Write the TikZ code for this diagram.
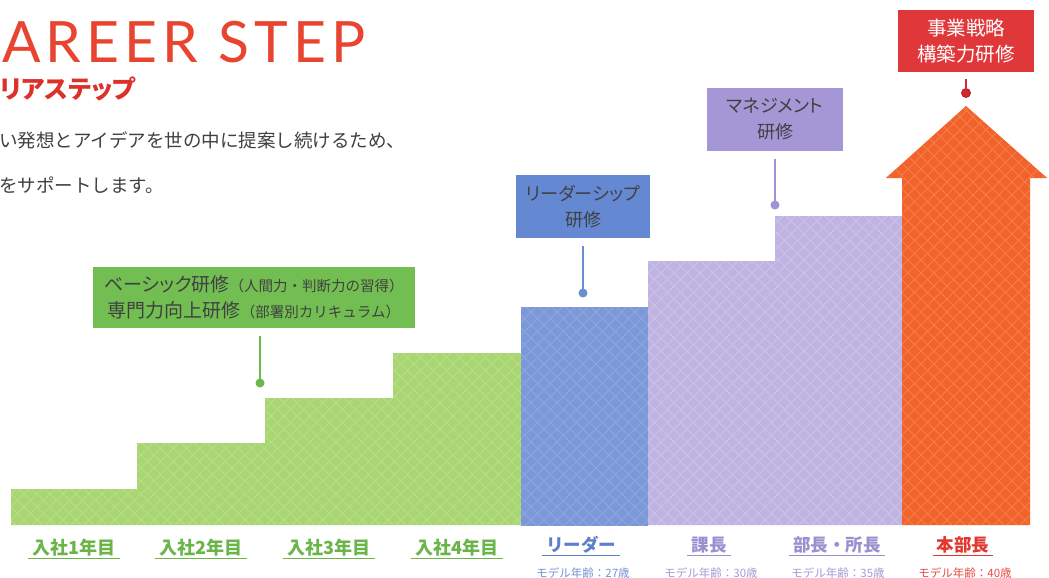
\documentclass[tikz,border=0pt]{standalone}
\usepackage{fontspec}
\newfontfamily\jp{Noto Sans CJK JP}
\newfontfamily\jpp{Noto Sans CJK JP}[RawFeature=+palt]
\newfontfamily\ttl{Lato}[LetterSpace=9]
\definecolor{titlered}{HTML}{E8442F}
\definecolor{subred}{HTML}{DD3029}
\definecolor{txtgray}{HTML}{404040}
\definecolor{gbar}{HTML}{A9D672}
\definecolor{ghatch}{HTML}{B8DE89}
\definecolor{bbar}{HTML}{7C98D8}
\definecolor{bhatch}{HTML}{8DA7DF}
\definecolor{pbar}{HTML}{BFB4E1}
\definecolor{phatch}{HTML}{CBC2E8}
\definecolor{rbar}{HTML}{F2622B}
\definecolor{rhatch}{HTML}{F57E4A}
\definecolor{gbox}{HTML}{72BE52}
\definecolor{bbox}{HTML}{6489D2}
\definecolor{pbox}{HTML}{A597D6}
\definecolor{rbox}{HTML}{E0383A}
\definecolor{gline}{HTML}{6CB94B}
\definecolor{bline}{HTML}{6A8CD3}
\definecolor{pline}{HTML}{A093D3}
\definecolor{rline}{HTML}{D8262E}
\definecolor{glab}{HTML}{6AB449}
\definecolor{blab}{HTML}{5E7FCB}
\definecolor{plab}{HTML}{9C8FCF}
\definecolor{rlab}{HTML}{E0382E}
\newcommand\xhatch[1]{%
  \foreach \i in {-600,-587,...,1700}{%
    \draw[#1, line width=0.9pt] (\i,0) -- ++(600,600);
    \draw[#1, line width=0.9pt] (\i,0) -- ++(-600,600);}}
\newcommand\paren[1]{{\jp\fontsize{14.5}{26}\selectfont #1}}
\begin{document}
\begin{tikzpicture}[x=1pt,y=-1pt,
  lab/.style={inner sep=0pt, anchor=base, font=\jp\bfseries\fontsize{18}{18}\selectfont},
  rlabel/.style={inner sep=0pt, anchor=base, font=\jp\bfseries\fontsize{17.5}{18}\selectfont},
  age/.style={inner sep=0pt, anchor=base, font=\jp\fontsize{11.5}{11.5}\selectfont},
  uline/.style={line width=1pt},
  callout/.style={inner sep=0pt, align=center, font=\jpp\fontsize{18}{26}\selectfont, text=txtgray},
  dotn/.style={circle, inner sep=0pt, minimum size=9pt},
  conn/.style={line width=1.5pt, shorten <=8pt}
]
\useasboundingbox[fill=white] (0,0) rectangle (1049,578);

% heading
\node[inner sep=0pt, anchor=base west, text=titlered, font=\ttl\fontsize{57}{57}\selectfont] (title) at (2,63) {AREER STEP};
\node[inner sep=0pt, anchor=base west, text=subred, font=\jpp\bfseries\fontsize{25}{25}\selectfont] (sub) at (0,98) {リアステップ};
\node[inner sep=0pt, anchor=base west, text=txtgray, font=\jp\fontsize{18.5}{18.5}\selectfont] (body1) at (-1,147) {い発想とアイデアを世の中に提案し続けるため、};
\node[inner sep=0pt, anchor=base west, text=txtgray, font=\jp\fontsize{18.5}{18.5}\selectfont] (body2) at (-1,192) {をサポートします。};

% bars
\begin{scope}
  \clip (11,525) -- (11,489) -- (137,489) -- (137,443) -- (265,443) -- (265,398) -- (393,398) -- (393,353) -- (521,353) -- (521,525) -- cycle;
  \fill[gbar] (0,0) rectangle (1049,578);
  \xhatch{ghatch}
\end{scope}
\begin{scope}
  \clip (521,307) rectangle (648,525);
  \fill[bbar] (0,0) rectangle (1049,578);
  \xhatch{bhatch}
\end{scope}
\begin{scope}
  \clip (648,525) -- (648,261) -- (775,261) -- (775,216) -- (902,216) -- (902,525) -- cycle;
  \fill[pbar] (0,0) rectangle (1049,578);
  \xhatch{phatch}
\end{scope}
\begin{scope}
  \clip (902,525) -- (902,178) -- (886,178) -- (966,106) -- (1047,178) -- (1030,178) -- (1030,525) -- cycle;
  \fill[rbar] (0,0) rectangle (1049,578);
  \xhatch{rhatch}
\end{scope}

% callouts
\node[callout, font=\jpp\fontsize{19}{26}\selectfont, fill=gbox, minimum width=322pt, minimum height=61pt] (cg) at (254,297.5)
  {ベーシック研修\paren{（人間力・判断力の習得）}\\専門力向上研修\paren{（部署別カリキュラム）}};
\node[callout, fill=bbox, minimum width=134pt, minimum height=63pt] (cb) at (583,206.5) {リーダーシップ\\研修};
\node[callout, fill=pbox, minimum width=136pt, minimum height=63pt] (cp) at (775,119.5) {マネジメント\\研修};
\node[callout, font=\jp\fontsize{19.5}{26}\selectfont, fill=rbox, text=white, minimum width=136pt, minimum height=62pt] (cr) at (966,41) {事業戦略\\構築力研修};

\node[dotn, fill=gline] (dg) at (260,383) {};
\node[dotn, fill=bline] (db) at (583,293) {};
\node[dotn, fill=pline] (dp) at (775,205) {};
\node[dotn, fill=rline, draw=rline!80!black, line width=0.8pt] (dr) at (966,93) {};

\draw[conn, draw=gline] (dg |- cg.south) -- (dg.center);
\draw[conn, draw=bline] (db |- cb.south) -- (db.center);
\draw[conn, draw=pline] (dp |- cp.south) -- (dp.center);
\draw[conn, draw=rline, shorten <=7pt] (dr |- cr.south) -- (dr.north);

% labels
\node[lab, text=glab] (l1) at (74,554) {入社1年目};
\node[lab, text=glab] (l2) at (201,554) {入社2年目};
\node[lab, text=glab] (l3) at (329,554) {入社3年目};
\node[lab, text=glab] (l4) at (457,554) {入社4年目};
\node[rlabel, text=blab] (l5) at (581,551) {リーダー};
\node[rlabel, text=plab] (l6) at (709,551) {課長};
\node[rlabel, text=plab] (l7) at (837,551) {部長・所長};
\node[rlabel, text=rlab] (l8) at (963,551) {本部長};
\foreach \n/\c in {l1/glab,l2/glab,l3/glab,l4/glab,l5/blab,l6/plab,l7/plab,l8/rlab}
  \draw[uline, draw=\c] ([xshift=-4pt,yshift=-4pt]\n.base west) -- ([xshift=4pt,yshift=-4pt]\n.base east);
\node[age, text=blab!85] (a5) at (583,577) {モデル年齢：27歳};
\node[age, text=plab!90] (a6) at (711,577) {モデル年齢：30歳};
\node[age, text=plab!90] (a7) at (838,577) {モデル年齢：35歳};
\node[age, text=rlab!90] (a8) at (965,577) {モデル年齢：40歳};
\end{tikzpicture}
\end{document}
